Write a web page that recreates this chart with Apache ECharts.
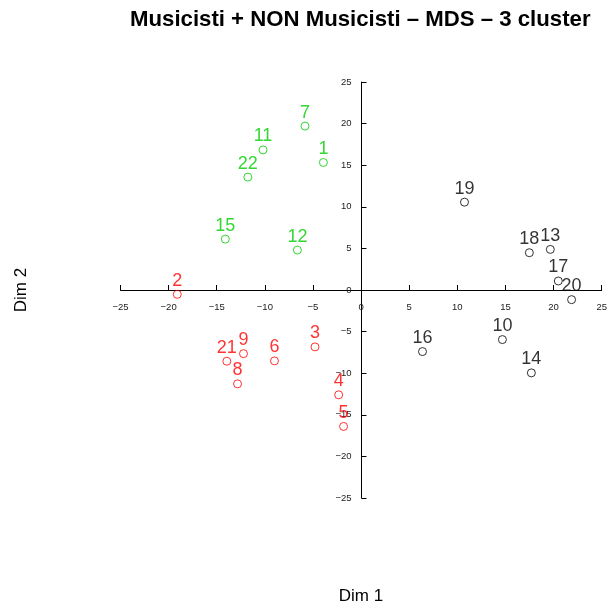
<!DOCTYPE html>
<html>
<head>
<meta charset="utf-8">
<title>MDS – 3 cluster</title>
<script src="https://cdn.jsdelivr.net/npm/echarts@6/dist/echarts.min.js"></script>
<style>
  html, body { margin: 0; padding: 0; background: #fff; }
  #chart { width: 610px; height: 609px; }
</style>
</head>
<body>
<div id="chart"></div>
<script>
// Subject ids and MDS coordinates, one set of arrays per cluster
const clusterAIds = ['1', '7', '11', '12', '15', '22'];
const clusterADim1 = [-3.92, -5.83, -10.19, -6.62, -14.11, -11.77];
const clusterADim2 = [15.33, 19.70, 16.84, 4.80, 6.12, 13.57];

const clusterBIds = ['2', '3', '4', '5', '6', '8', '9', '21'];
const clusterBDim1 = [-19.10, -4.79, -2.33, -1.82, -9.00, -12.84, -12.22, -13.95];
const clusterBDim2 = [-0.52, -6.84, -12.60, -16.40, -8.52, -11.28, -7.65, -8.56];

const clusterCIds = ['10', '13', '14', '16', '17', '18', '19', '20'];
const clusterCDim1 = [14.68, 19.66, 17.69, 6.38, 20.49, 17.48, 10.74, 21.87];
const clusterCDim2 = [-5.96, 4.88, -9.96, -7.40, 1.08, 4.48, 10.56, -1.16];

// Axis range and tick step shared by both dimensions
const axisMin = -25;
const axisMax = 25;
const axisStep = 5;

const FONT = '"Liberation Sans", Arial, Helvetica, sans-serif';

// Plot area (px)
const W = 610, H = 609;
const grid = { left: 120.5, right: 7.5, top: 82, bottom: 111 };
const plotW = W - grid.left - grid.right;
const plotH = H - grid.top - grid.bottom;
// Fraction of each axis span at which the value 0 sits
const zeroFracX = (0 - axisMin) / (axisMax - axisMin);
const zeroFracY = (0 - axisMin) / (axisMax - axisMin);

function toPoints(ids, xs, ys) {
  return ids.map((id, i) => ({ name: id, value: [xs[i], ys[i]] }));
}

function tickText(v) {
  return v < 0 ? '\u2212' + Math.abs(v) : String(v);
}

function clusterSeries(ids, xs, ys, color) {
  return {
    type: 'scatter',
    data: toPoints(ids, xs, ys),
    symbol: 'circle',
    symbolSize: 8,
    itemStyle: { color: 'rgba(0,0,0,0)', borderColor: color, borderWidth: 1 },
    label: {
      show: true,
      position: 'top',
      distance: 0,
      formatter: p => p.name,
      color: color,
      fontFamily: FONT,
      fontSize: 18
    },
    emphasis: { disabled: true },
    silent: true
  };
}

function axis(offset, margin) {
  return {
    type: 'value',
    min: axisMin,
    max: axisMax,
    interval: axisStep,
    offset: offset,
    splitLine: { show: false },
    axisLine: { show: true, onZero: false, lineStyle: { color: '#000', width: 1 } },
    axisTick: { show: true, inside: true, length: 5, lineStyle: { color: '#000', width: 1 } },
    axisLabel: {
      show: true,
      margin: margin,
      showMinLabel: true,
      showMaxLabel: true,
      formatter: tickText,
      color: '#222',
      fontFamily: FONT,
      fontSize: 9.5
    }
  };
}

// Axes are shifted inward so that each one runs through the origin
const xAxis = axis(-plotH * zeroFracY, 12);
const yAxis = axis(-plotW * zeroFracX, 10);

const chart = echarts.init(document.getElementById('chart'), null, { renderer: 'canvas' });
chart.setOption({
  animation: false,
  backgroundColor: '#fff',
  title: {
    text: 'Musicisti + NON Musicisti \u2013 MDS \u2013 3 cluster',
    left: 130,
    top: 9,
    padding: 0,
    textStyle: { fontFamily: FONT, fontSize: 22.2, fontWeight: 'bold', color: '#000' }
  },
  grid: Object.assign({ containLabel: false }, grid),
  xAxis: xAxis,
  yAxis: yAxis,
  graphic: [
    {
      type: 'text',
      x: 361, y: 596,
      style: { text: 'Dim 1', font: '17px ' + FONT, fill: '#000', textAlign: 'center', textVerticalAlign: 'middle' }
    },
    {
      type: 'text',
      x: 21, y: 290,
      rotation: Math.PI / 2,
      style: { text: 'Dim 2', font: '17px ' + FONT, fill: '#000', textAlign: 'center', textVerticalAlign: 'middle' }
    }
  ],
  series: [
    clusterSeries(clusterAIds, clusterADim1, clusterADim2, '#00CD00'),
    clusterSeries(clusterBIds, clusterBDim1, clusterBDim2, '#FF0000'),
    clusterSeries(clusterCIds, clusterCDim1, clusterCDim2, '#000000')
  ]
});
</script>
</body>
</html>
